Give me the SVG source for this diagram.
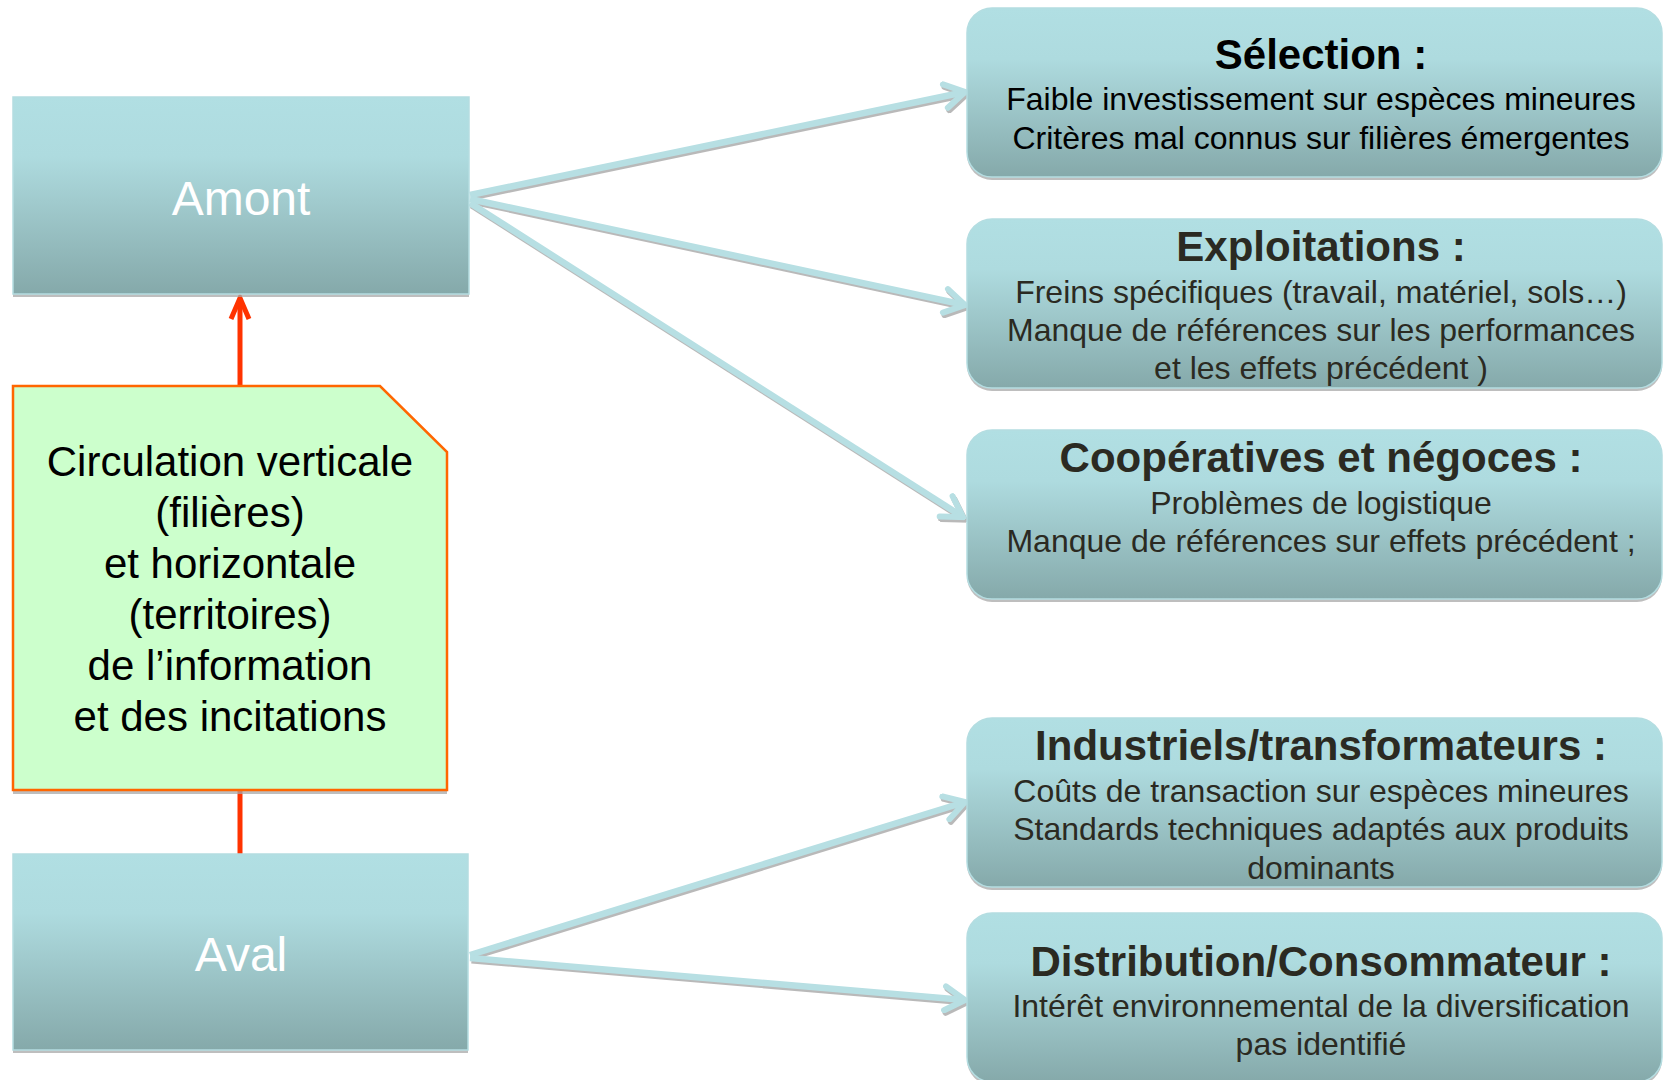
<svg xmlns="http://www.w3.org/2000/svg" width="1664" height="1080" viewBox="0 0 1664 1080">
<defs>
<linearGradient id="teal" x1="0" y1="0" x2="0" y2="1">
<stop offset="0" stop-color="#B1DFE3"/>
<stop offset="0.3" stop-color="#AEDBDF"/>
<stop offset="1" stop-color="#85A9AA"/>
</linearGradient>
<marker id="ah" viewBox="0 0 30 30" refX="27" refY="15" markerWidth="30" markerHeight="30" markerUnits="userSpaceOnUse" orient="auto">
<path d="M7,3 L27,15 L7,27" fill="none" stroke="#B7DFE3" stroke-width="6" stroke-linejoin="miter" stroke-linecap="round"/>
</marker>
<marker id="ahs" viewBox="0 0 30 30" refX="27" refY="15" markerWidth="30" markerHeight="30" markerUnits="userSpaceOnUse" orient="auto">
<path d="M7,3 L27,15 L7,27" fill="none" stroke="#9C9C9C" stroke-width="6" stroke-linejoin="miter" stroke-linecap="round"/>
</marker>
</defs>
<style>
.shadow{fill:#A8A8A8;opacity:0.75}
.box{fill:url(#teal);stroke:#B4DDE1;stroke-width:1.5}
.big{font-family:"Liberation Sans",Arial,sans-serif;font-size:48px;fill:#FFFFFF;text-anchor:middle}
.green{font-family:"Liberation Sans",Arial,sans-serif;font-size:42px;fill:#000000;text-anchor:middle}
.title{font-family:"Liberation Sans",Arial,sans-serif;font-size:42px;font-weight:bold;fill:#2B2A22;text-anchor:middle}
.body{font-family:"Liberation Sans",Arial,sans-serif;font-size:32px;fill:#2B2A22;text-anchor:middle}
.conn{fill:none;stroke:#B7DFE3;stroke-width:6.5;marker-end:url(#ah)}
.connS{fill:none;stroke:#9C9C9C;stroke-width:6;opacity:0.7;marker-end:url(#ahs)}
.red{fill:none;stroke:#FF3300;stroke-width:5}
</style>
<rect width="1664" height="1080" fill="#FFFFFF"/>

<g id="connectors">
<g transform="translate(1.5,2.5)">
<line class="connS" x1="470" y1="195" x2="965" y2="92"/>
<line class="connS" x1="470" y1="199" x2="965" y2="305"/>
<line class="connS" x1="470" y1="203" x2="963" y2="517"/>
<line class="connS" x1="470" y1="955" x2="965" y2="802"/>
<line class="connS" x1="470" y1="958" x2="965" y2="1000"/>
</g>
<line class="conn" x1="470" y1="195" x2="965" y2="92"/>
<line class="conn" x1="470" y1="199" x2="965" y2="305"/>
<line class="conn" x1="470" y1="203" x2="963" y2="517"/>
<line class="conn" x1="470" y1="955" x2="965" y2="802"/>
<line class="conn" x1="470" y1="958" x2="965" y2="1000"/>
<line class="red" x1="240" y1="386" x2="240" y2="300"/>
<path class="red" d="M231,319 L240,298 L249,319" stroke-linejoin="miter"/>
<line class="red" x1="240" y1="790" x2="240" y2="855"/>
</g>

<g id="amont">
<rect class="shadow" x="13" y="100" width="456" height="197"/>
<rect class="box" x="13" y="97" width="456" height="197"/>
<text class="big" x="241" y="215">Amont</text>
</g>

<g id="aval">
<rect class="shadow" x="13" y="857" width="455" height="196"/>
<rect class="box" x="13" y="854" width="455" height="196"/>
<text class="big" x="241" y="971">Aval</text>
</g>

<g id="circulation">
<rect class="shadow" x="13" y="790" width="434" height="4"/>
<polygon points="13,386 380,386 447,452 447,790 13,790" fill="#CCFFCC" stroke="#FF6600" stroke-width="2.5"/>
<text class="green" x="230" y="476">Circulation verticale</text>
<text class="green" x="230" y="527">(filières)</text>
<text class="green" x="230" y="578">et horizontale</text>
<text class="green" x="230" y="629">(territoires)</text>
<text class="green" x="230" y="680">de l’information</text>
<text class="green" x="230" y="731">et des incitations</text>
</g>

<g id="selection">
<rect class="shadow" x="967" y="11" width="695" height="169" rx="25"/>
<rect class="box" x="967" y="8" width="695" height="169" rx="25"/>
<text class="title" x="1321" y="69" style="fill:#000">Sélection :</text>
<text class="body" x="1321" y="110" style="fill:#000">Faible investissement sur espèces mineures</text>
<text class="body" x="1321" y="149" style="fill:#000">Critères mal connus sur filières émergentes</text>
</g>

<g id="exploitations">
<rect class="shadow" x="967" y="222" width="695" height="169" rx="25"/>
<rect class="box" x="967" y="219" width="695" height="169" rx="25"/>
<text class="title" x="1321" y="261">Exploitations :</text>
<text class="body" x="1321" y="303">Freins spécifiques (travail, matériel, sols…)</text>
<text class="body" x="1321" y="341">Manque de références sur les performances</text>
<text class="body" x="1321" y="379">et les effets précédent )</text>
</g>

<g id="cooperatives">
<rect class="shadow" x="967" y="433" width="695" height="169" rx="25"/>
<rect class="box" x="967" y="430" width="695" height="169" rx="25"/>
<text class="title" x="1321" y="472">Coopératives et négoces :</text>
<text class="body" x="1321" y="514">Problèmes de logistique</text>
<text class="body" x="1321" y="552">Manque de références sur effets précédent ;</text>
</g>

<g id="industriels">
<rect class="shadow" x="967" y="721" width="695" height="169" rx="25"/>
<rect class="box" x="967" y="718" width="695" height="169" rx="25"/>
<text class="title" x="1321" y="760">Industriels/transformateurs :</text>
<text class="body" x="1321" y="802">Coûts de transaction sur espèces mineures</text>
<text class="body" x="1321" y="840">Standards techniques adaptés aux produits</text>
<text class="body" x="1321" y="879">dominants</text>
</g>

<g id="distribution">
<rect class="shadow" x="967" y="916" width="695" height="169" rx="25"/>
<rect class="box" x="967" y="913" width="695" height="169" rx="25"/>
<text class="title" x="1321" y="976">Distribution/Consommateur :</text>
<text class="body" x="1321" y="1017">Intérêt environnemental de la diversification</text>
<text class="body" x="1321" y="1055">pas identifié</text>
</g>
</svg>
